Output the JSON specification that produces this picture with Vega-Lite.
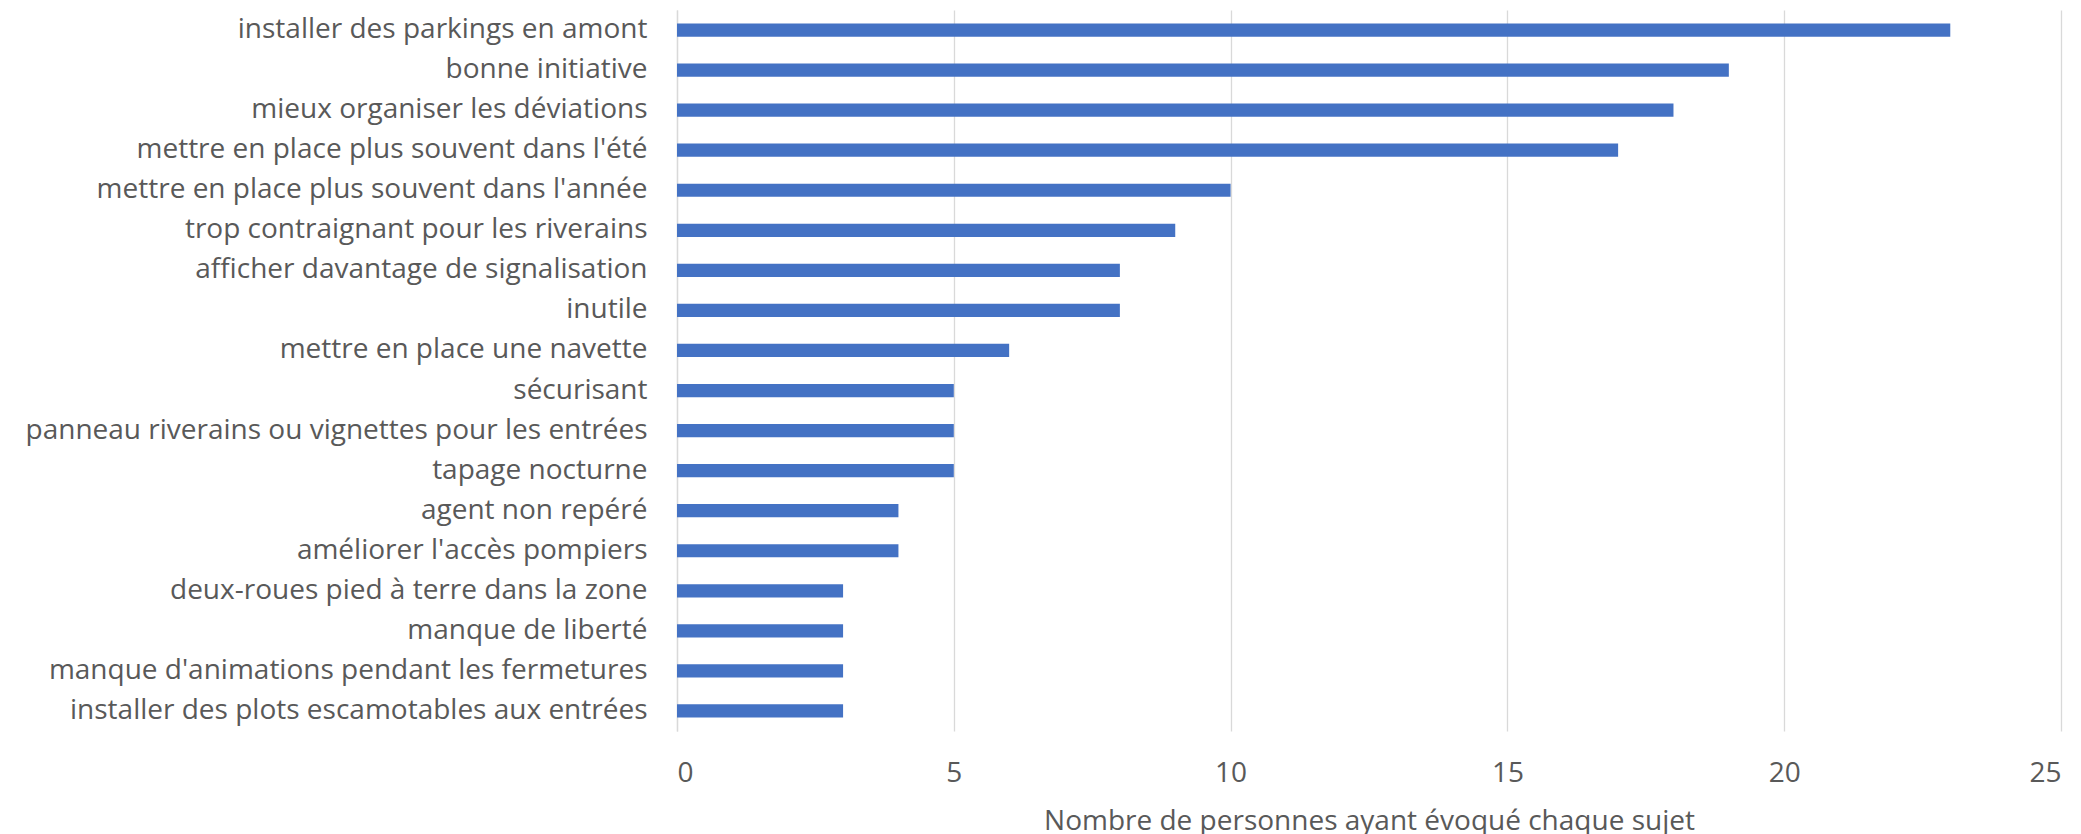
{
  "$schema": "https://vega.github.io/schema/vega-lite/v6.json",
  "autosize": "none",
  "width": 1384,
  "height": 721,
  "padding": {"left": 677, "top": 10, "right": 20, "bottom": 103},
  "background": "white",
  "data": {"values": [
    {"sujet": "installer des parkings en amont", "n": 23},
    {"sujet": "bonne initiative", "n": 19},
    {"sujet": "mieux organiser les déviations", "n": 18},
    {"sujet": "mettre en place plus souvent dans l'été", "n": 17},
    {"sujet": "mettre en place plus souvent dans l'année", "n": 10},
    {"sujet": "trop contraignant pour les riverains", "n": 9},
    {"sujet": "afficher davantage de signalisation", "n": 8},
    {"sujet": "inutile", "n": 8},
    {"sujet": "mettre en place une navette", "n": 6},
    {"sujet": "sécurisant", "n": 5},
    {"sujet": "panneau riverains ou vignettes pour les entrées", "n": 5},
    {"sujet": "tapage nocturne", "n": 5},
    {"sujet": "agent non repéré", "n": 4},
    {"sujet": "améliorer l'accès pompiers", "n": 4},
    {"sujet": "deux-roues pied à terre dans la zone", "n": 3},
    {"sujet": "manque de liberté", "n": 3},
    {"sujet": "manque d'animations pendant les fermetures", "n": 3},
    {"sujet": "installer des plots escamotables aux entrées", "n": 3}
  ]},
  "mark": {"type": "bar", "color": "#4472C4"},
  "encoding": {
    "y": {
      "field": "sujet", "type": "nominal", "sort": null,
      "scale": {"paddingInner": 0.67, "paddingOuter": 0.335},
      "axis": {
        "title": null, "ticks": false, "domain": true, "domainColor": "#d9d9d9", "domainWidth": 1.3,
        "labelFont": "Open Sans", "labelFontSize": 28, "labelColor": "#595959",
        "labelPadding": 30, "labelLimit": 1000
      }
    },
    "x": {
      "field": "n", "type": "quantitative",
      "scale": {"domain": [0, 25]},
      "axis": {
        "title": "Nombre de personnes ayant évoqué chaque sujet",
        "titleFont": "Open Sans", "titleFontSize": 28, "titleFontWeight": "normal", "titleColor": "#595959",
        "titlePadding": 20,
        "values": [0, 5, 10, 15, 20, 25],
        "domain": false, "ticks": false,
        "grid": true, "gridColor": "#d9d9d9", "gridWidth": 1.3,
        "labelFont": "Open Sans", "labelFontSize": 28, "labelColor": "#595959",
        "labelPadding": 28
      }
    }
  },
  "config": {"view": {"stroke": null}}
}
